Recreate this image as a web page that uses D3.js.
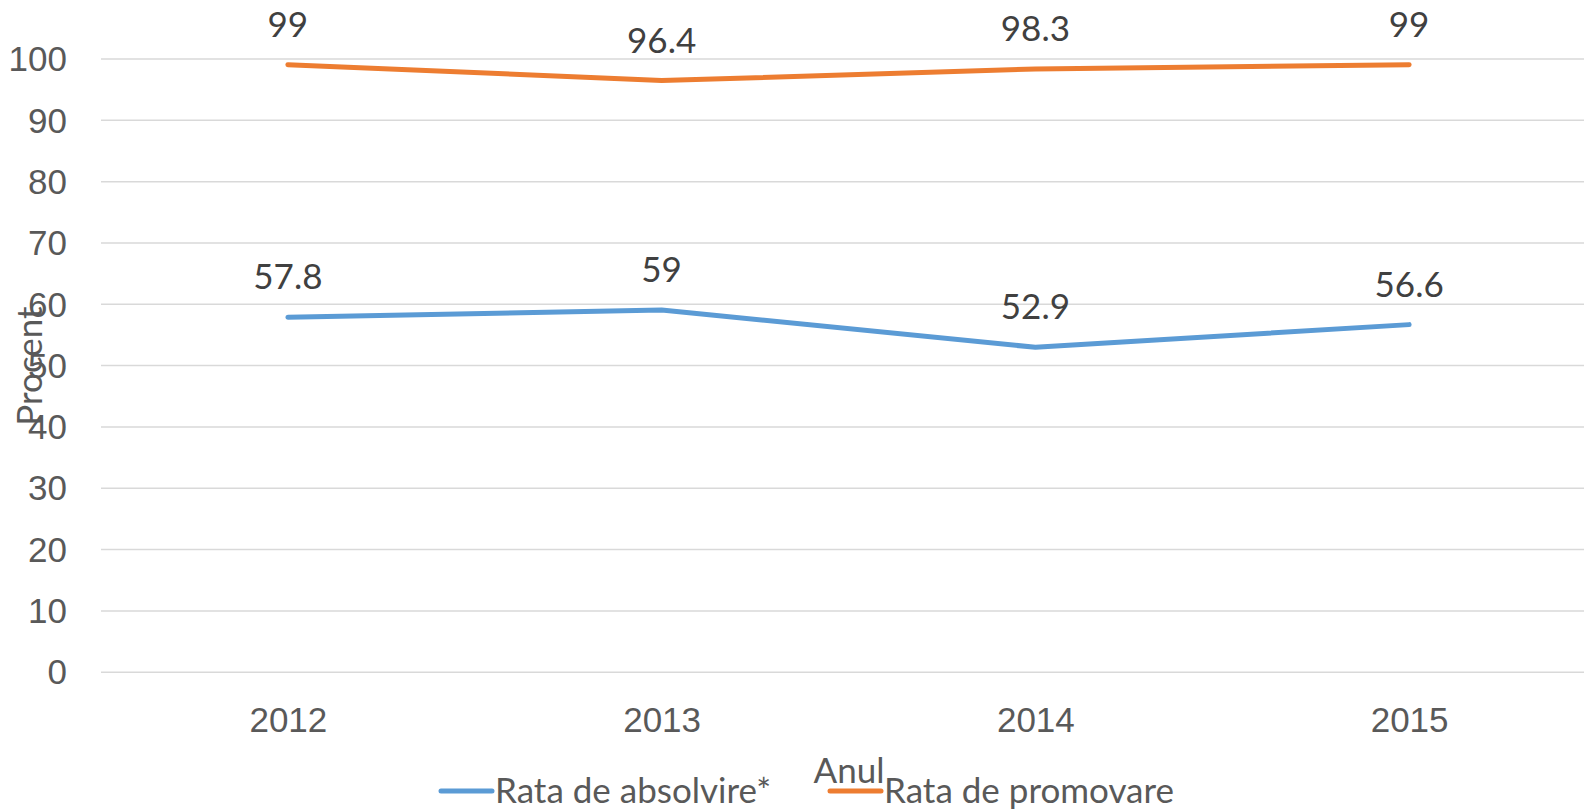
<!DOCTYPE html>
<html>
<head>
<meta charset="utf-8">
<title>Rata de absolvire si promovare</title>
<style>
  body { margin: 0; background: #fff; }
  svg { font-family: Lato, "Open Sans", sans-serif; }
  .grid line { stroke: #d9d9d9; stroke-width: 1.5px; }
  .grid path { display: none; }
  .axis path, .axis line { display: none; }
  .axis text { fill: #595959; font-size: 35px; }
  .lbl { fill: #404040; font-size: 35px; }
</style>
</head>
<body>
<script src="https://d3js.org/d3.v7.min.js"></script>
<script>
var years = ["2012", "2013", "2014", "2015"];
var absolvire = [57.8, 59, 52.9, 56.6];
var promovare = [99, 96.4, 98.3, 99];
var yTicks = [0, 10, 20, 30, 40, 50, 60, 70, 80, 90, 100];
var seriesNames = ["Rata de absolvire*", "Rata de promovare"];
var colors = ["#5b9bd5", "#ed7d31"];

var W = 1584, H = 812;
var plotLeft = 101, plotRight = 1596, plotTop = 58.5, plotBottom = 671.7;

var svg = d3.select("body").append("svg")
    .attr("width", W)
    .attr("height", H);

var x = d3.scalePoint()
    .domain(years)
    .range([plotLeft, plotRight])
    .padding(0.5);

var y = d3.scaleLinear()
    .domain([0, 100])
    .range([plotBottom, plotTop]);

// gridlines
svg.append("g")
    .attr("class", "grid")
    .attr("transform", "translate(" + plotLeft + ",0)")
    .call(d3.axisRight(y).tickValues(yTicks).tickSize(W - plotLeft).tickFormat(""));

// y axis labels
svg.append("g")
    .attr("class", "axis")
    .attr("transform", "translate(67,0)")
    .call(d3.axisLeft(y).tickValues(yTicks).tickSize(0).tickPadding(0))
    .selectAll("text").attr("dy", "0.35em");

// x axis labels
svg.append("g")
    .attr("class", "axis")
    .attr("transform", "translate(0," + plotBottom + ")")
    .call(d3.axisBottom(x).tickSize(0).tickPadding(0))
    .selectAll("text").attr("dy", null).attr("y", 60);

var line = d3.line()
    .x(function (d, i) { return x(years[i]); })
    .y(function (d) { return y(d); });

[absolvire, promovare].forEach(function (vals, s) {
  svg.append("path")
      .datum(vals)
      .attr("d", line)
      .attr("fill", "none")
      .attr("stroke", colors[s])
      .attr("stroke-width", 5)
      .attr("stroke-linecap", "round")
      .attr("stroke-linejoin", "round");

  svg.selectAll(null)
      .data(vals)
      .enter().append("text")
      .attr("class", "lbl")
      .attr("text-anchor", "middle")
      .attr("x", function (d, i) { return x(years[i]); })
      .attr("y", function (d) { return y(d) - 28; })
      .text(function (d) { return d; });
});

// axis titles
svg.append("text")
    .attr("transform", "translate(42,366) rotate(-90)")
    .attr("text-anchor", "middle")
    .attr("fill", "#595959")
    .attr("font-size", 35)
    .text("Procent");

svg.append("text")
    .attr("x", 849)
    .attr("y", 783)
    .attr("text-anchor", "middle")
    .attr("fill", "#595959")
    .attr("font-size", 35)
    .text("Anul");

// legend
var legendX = [441, 830];
seriesNames.forEach(function (name, s) {
  var g = svg.append("g").attr("transform", "translate(" + legendX[s] + ",791)");
  g.append("line")
      .attr("x1", 0).attr("x2", 51)
      .attr("stroke", colors[s])
      .attr("stroke-width", 5)
      .attr("stroke-linecap", "round");
  g.append("text")
      .attr("x", 54)
      .attr("y", 12)
      .attr("fill", "#595959")
      .attr("font-size", 35)
      .text(name);
});
</script>
</body>
</html>
